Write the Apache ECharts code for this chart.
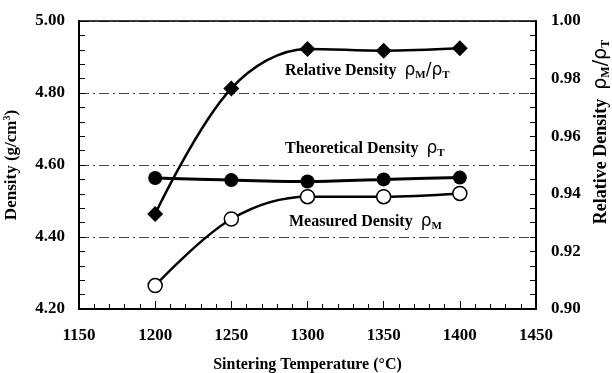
<!DOCTYPE html>
<html>
<head>
<meta charset="utf-8">
<script src="https://cdn.jsdelivr.net/npm/echarts@6/dist/echarts.min.js"></script>
<style>
  html, body { margin: 0; padding: 0; background: #fff; }
  #chart { width: 612px; height: 373px; }
</style>
</head>
<body>
<div id="chart"></div>
<script>
// sintering temperatures (°C)
const temperatures = [1200, 1250, 1300, 1350, 1400];
// densities in g/cm3 (left axis)
const theoreticalDensity = [4.564, 4.558, 4.554, 4.560, 4.565];
const measuredDensity = [4.265, 4.450, 4.512, 4.512, 4.521];
// relative density rhoM/rhoT (right axis)
const relativeDensity = [0.933, 0.9766, 0.9903, 0.9897, 0.9905];

const serif = '"Liberation Serif", "DejaVu Serif", serif';
const black = '#000';

const pairs = (xs, ys) => xs.map((x, i) => [x, ys[i]]);

const chart = echarts.init(document.getElementById('chart'));

const subRich = {
  b: { fontFamily: serif, fontWeight: 'bold', fontSize: 16, color: black },
  r: { fontFamily: '"DejaVu Sans", sans-serif', fontSize: 17, color: black },
  s: { fontFamily: serif, fontWeight: 'bold', fontSize: 11, color: black, padding: [9, 0, 0, 0] }
};

// right axis title is a little larger
const titleRich = {
  b: { fontFamily: serif, fontWeight: 'bold', fontSize: 18, color: black },
  r: { fontFamily: '"DejaVu Sans", sans-serif', fontSize: 19, color: black },
  s: { fontFamily: serif, fontWeight: 'bold', fontSize: 12, color: black, padding: [10, 0, 0, 0] }
};

const boldLabel = (fmt) => ({
  fontFamily: serif, fontWeight: 'bold', fontSize: 17, color: black, formatter: fmt
});

const tickStyle = { color: black, width: 1 };

const option = {
  animation: false,
  backgroundColor: '#fff',
  grid: { left: 79, right: 76, top: 21, bottom: 64, outerBoundsMode: 'none' },
  xAxis: [
    {
      type: 'value',
      min: 1150, max: 1450, interval: 50,
      name: 'Sintering Temperature (°C)',
      nameLocation: 'middle',
      nameGap: 48,
      nameTextStyle: { fontFamily: serif, fontWeight: 'bold', fontSize: 16, color: black },
      axisLine: { show: true, onZero: false, lineStyle: { color: black, width: 2 } },
      axisTick: { show: true, inside: true, length: 8, lineStyle: tickStyle },
      minorTick: { show: true, splitNumber: 5, length: 5, lineStyle: tickStyle },
      axisLabel: Object.assign({ margin: 18 }, boldLabel(v => String(v))),
      splitLine: { show: false }
    },
    {
      // top frame line
      type: 'value',
      min: 1150, max: 1450,
      position: 'top',
      axisLine: { show: true, onZero: false, lineStyle: { color: black, width: 1.5 } },
      axisTick: { show: false },
      axisLabel: { show: false },
      splitLine: { show: false }
    }
  ],
  yAxis: [
    {
      type: 'value',
      min: 4.2, max: 5.0, interval: 0.2,
      name: 'Density (g/cm{sup|3})',
      nameLocation: 'middle',
      nameGap: 58,
      nameTextStyle: {
        fontFamily: serif, fontWeight: 'bold', fontSize: 17, color: black,
        rich: { sup: { fontFamily: serif, fontWeight: 'bold', fontSize: 10, color: black, padding: [0, 0, 9, 0] } }
      },
      axisLine: { show: true, onZero: false, lineStyle: { color: black, width: 2 } },
      axisTick: { show: true, inside: true, length: 6, lineStyle: tickStyle },
      minorTick: { show: true, splitNumber: 5, length: 6, lineStyle: tickStyle },
      axisLabel: Object.assign({ margin: 14 }, boldLabel(v => v.toFixed(2))),
      splitLine: { show: true, lineStyle: { color: '#444', width: 1, type: [10, 4, 2, 4] } }
    },
    {
      type: 'value',
      min: 0.9, max: 1.0, interval: 0.02,
      position: 'right',
      name: '{b|Relative Density  }{r|ρ}{s|M}{r|/ρ}{s|T}',
      nameLocation: 'middle',
      nameGap: 48,
      nameRotate: 90,
      nameTextStyle: { padding: [0, 0, 0, 66], rich: titleRich },
      axisLine: { show: true, onZero: false, lineStyle: { color: black, width: 2 } },
      axisTick: { show: true, inside: true, length: 6, lineStyle: tickStyle },
      minorTick: { show: true, splitNumber: 4, length: 6, lineStyle: tickStyle },
      axisLabel: Object.assign({ margin: 15 }, boldLabel(v => v.toFixed(2))),
      splitLine: { show: false }
    }
  ],
  graphic: [
    { type: 'text', left: 285, top: 62, style: { text: '{b|Relative Density  }{r|ρ}{s|M}{r|/ρ}{s|T}', rich: subRich } },
    { type: 'text', left: 285, top: 140, style: { text: '{b|Theoretical Density  }{r|ρ}{s|T}', rich: subRich } },
    { type: 'text', left: 289, top: 213, style: { text: '{b|Measured Density  }{r|ρ}{s|M}', rich: subRich } }
  ],
  series: [
    {
      name: 'Relative Density',
      type: 'line',
      yAxisIndex: 1,
      smooth: 0.35,
      data: pairs(temperatures, relativeDensity),
      symbol: 'diamond',
      symbolSize: 16,
      itemStyle: { color: black },
      lineStyle: { color: black, width: 2.5 },
      z: 3
    },
    {
      name: 'Theoretical Density',
      type: 'line',
      smooth: 0.3,
      data: pairs(temperatures, theoreticalDensity),
      symbol: 'circle',
      symbolSize: 14,
      itemStyle: { color: black },
      lineStyle: { color: black, width: 3 },
      z: 3
    },
    {
      name: 'Measured Density',
      type: 'line',
      smooth: 0.35,
      data: pairs(temperatures, measuredDensity),
      symbol: 'circle',
      symbolSize: 14,
      itemStyle: { color: '#fff', borderColor: black, borderWidth: 1.5 },
      lineStyle: { color: black, width: 2.5 },
      z: 3
    }
  ]
};

chart.setOption(option);
window.addEventListener('resize', chart.resize);
</script>
</body>
</html>
